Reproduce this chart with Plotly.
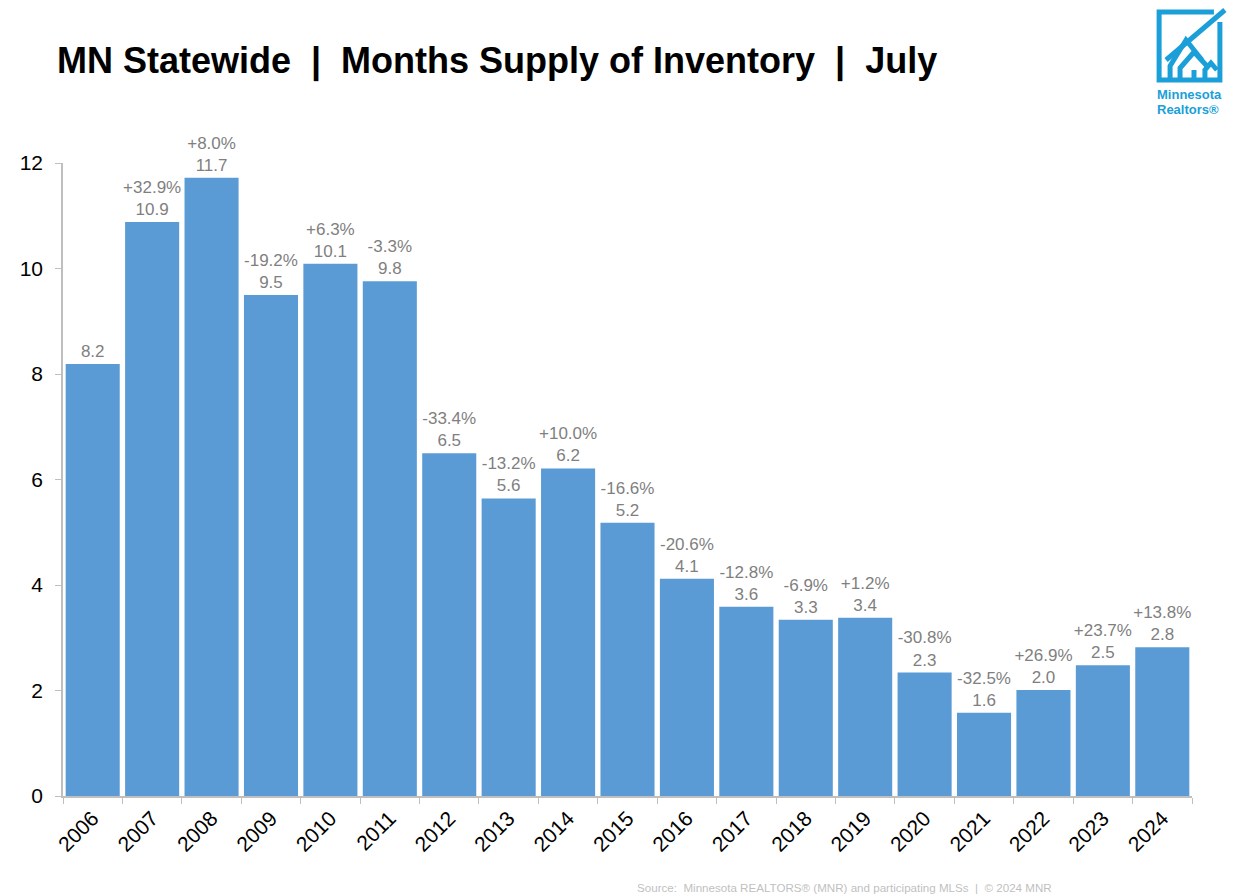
import plotly.graph_objects as go

years = ["2006", "2007", "2008", "2009", "2010", "2011", "2012", "2013", "2014", "2015",
         "2016", "2017", "2018", "2019", "2020", "2021", "2022", "2023", "2024"]
supply = [8.19, 10.88, 11.72, 9.50, 10.09, 9.76, 6.50, 5.64, 6.21, 5.18,
          4.12, 3.59, 3.34, 3.38, 2.34, 1.58, 2.01, 2.48, 2.82]
pct_change = [None, "+32.9%", "+8.0%", "-19.2%", "+6.3%", "-3.3%", "-33.4%", "-13.2%", "+10.0%", "-16.6%",
              "-20.6%", "-12.8%", "-6.9%", "+1.2%", "-30.8%", "-32.5%", "+26.9%", "+23.7%", "+13.8%"]
y_ticks = [0, 2, 4, 6, 8, 10, 12]

labels = [(f"{p}<br>{v:.1f}" if p else f"{v:.1f}") for p, v in zip(pct_change, supply)]

OFF = 8  # page body margin
W, H = 1243 - OFF, 895 - OFF
ML, MT = 59 - OFF, 163 - OFF
MR = W - (1192 - OFF)
MB = H - (796 - OFF)
PW, PH = W - ML - MR, H - MT - MB


def px(x, y):
    # screen pixel -> paper coords
    x -= OFF
    y -= OFF
    return (x - ML) / PW, (H - MB - y) / PH


fig = go.Figure()
fig.add_trace(go.Bar(
    x=years, y=supply, text=labels, textposition="outside",
    textfont=dict(family="Liberation Sans, Arial", size=17, color="#7f7f7f"),
    marker=dict(color="#5b9bd5", line=dict(width=0)),
    constraintext="none", cliponaxis=False, hoverinfo="skip",
))

LOGO = "#1a9fd9"
shapes = []


def seg(points, width=5):
    d = ""
    for i, (x, y) in enumerate(points):
        u, v = px(x, y)
        d += ("M" if i == 0 else "L") + f"{u:.5f},{v:.5f} "
    shapes.append(dict(type="path", path=d, xref="paper", yref="paper",
                       line=dict(color=LOGO, width=width), layer="above"))


# logo drawing
seg([(1214, 12), (1159, 12), (1159, 80), (1220, 80), (1220, 22)])
seg([(1225, 10), (1166, 60)])
seg([(1170, 78), (1170, 66), (1186, 40), (1202, 60)])
seg([(1180, 80), (1180, 68), (1194, 52), (1207, 66)])
seg([(1194, 80), (1194, 70)])
seg([(1205, 80), (1205, 70), (1211, 63), (1217, 70)])

annotations = [
    dict(text="<b>MN Statewide  |  Months Supply of Inventory  |  July</b>",
         x=px(51, 0)[0], y=px(0, 61)[1], xref="paper", yref="paper",
         xanchor="left", yanchor="middle", showarrow=False,
         font=dict(family="Liberation Sans, Arial", size=36, color="#000000")),
    dict(text="<b>Minnesota</b>", x=px(1155, 0)[0], y=px(0, 94)[1], xref="paper", yref="paper",
         xanchor="left", yanchor="middle", showarrow=False,
         font=dict(family="Liberation Sans, Arial", size=13, color=LOGO)),
    dict(text="<b>Realtors®</b>", x=px(1155, 0)[0], y=px(0, 109)[1], xref="paper", yref="paper",
         xanchor="left", yanchor="middle", showarrow=False,
         font=dict(family="Liberation Sans, Arial", size=13, color=LOGO)),
    dict(text="Source:  Minnesota REALTORS® (MNR) and participating MLSs  |  © 2024 MNR",
         x=px(1054, 0)[0], y=px(0, 887)[1], xref="paper", yref="paper",
         xanchor="right", yanchor="middle", showarrow=False,
         font=dict(family="Liberation Sans, Arial", size=11.6, color="#bfbfbf")),
]

fig.update_layout(
    width=W, height=H, margin=dict(l=ML, r=MR, t=MT, b=MB),
    paper_bgcolor="white", plot_bgcolor="white",
    bargap=0.09, showlegend=False,
    shapes=shapes, annotations=annotations,
    xaxis=dict(type="category", showgrid=False, showline=True, linecolor="#bfbfbf", linewidth=1.5,
               ticks="outside", tickson="boundaries", ticklen=6, tickcolor="#bfbfbf",
               tickangle=-45, tickfont=dict(family="Liberation Sans, Arial", size=21, color="#000000")),
    yaxis=dict(range=[0, 12], tickvals=y_ticks, showgrid=False, zeroline=False,
               showline=True, linecolor="#bfbfbf", linewidth=1.5,
               ticks="outside", ticklen=6, tickcolor="#bfbfbf", ticklabelstandoff=8,
               tickfont=dict(family="Liberation Sans, Arial", size=21, color="#000000")),
)

fig.write_html("out.html")
